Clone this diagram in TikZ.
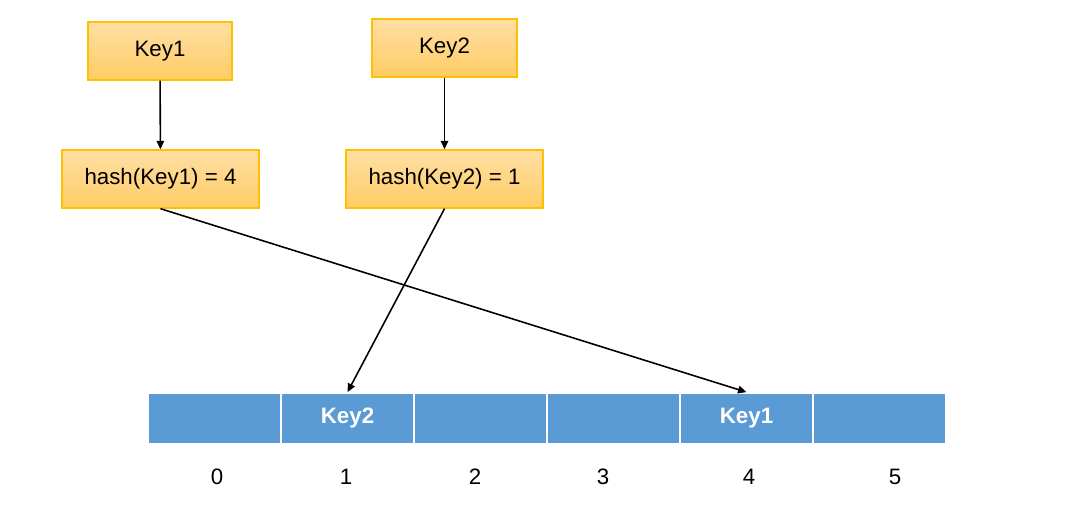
\documentclass[tikz,border=0pt]{standalone}
\usepackage{fontspec}
\setmainfont{Liberation Sans}
\usetikzlibrary{arrows.meta}
\definecolor{boxtop}{HTML}{FFDFA3}
\definecolor{boxbot}{HTML}{FFCC66}
\definecolor{boxline}{HTML}{FFC000}
\definecolor{slotblue}{HTML}{5B9BD5}

\begin{document}
\begin{tikzpicture}[x=0.02cm,y=-0.02cm,
    keybox/.style={draw=boxline,line width=0.8pt,top color=boxtop,bottom color=boxbot,
      minimum height=1.16cm,inner sep=0pt,font=\fontsize{12.7}{15}\selectfont},
    slot/.style={draw=white,line width=1pt,fill=slotblue,minimum width=2.66cm,
      minimum height=1.02cm,inner sep=0pt,text=white,font=\fontsize{12.7}{15}\selectfont\bfseries},
    idx/.style={font=\fontsize{12.7}{15}\selectfont},
    arr/.style={-{Triangle[length=1.7mm,width=1.5mm]},line width=0.9pt}]
    \useasboundingbox (0,0) rectangle (1067,515);
    \node[keybox,minimum width=2.88cm] (key1) at (160,51) {Key1};
    \node[keybox,minimum width=2.9cm] (key2) at (444.5,48) {Key2};
    \node[keybox,minimum width=3.94cm] (hash1) at (160.5,179) {hash(Key1) = 4};
    \node[keybox,minimum width=3.94cm] (hash2) at (444.5,179) {hash(Key2) = 1};
    \foreach \i/\t in {0/,1/Key2,2/,3/,4/Key1,5/}
      \node[slot] (c\i) at (214.5+133*\i,418.5) {\t};
    \foreach \i/\x in {0/217,1/346,2/475,3/603,4/749,5/895}
      \node[idx] (n\i) at (\x,477) {\i};
    \draw[arr] (key1) -- (hash1);
    \draw[arr] (key2) -- (hash2);
    \draw[arr] (hash1.south) -- (c4.north);
    \draw[arr] (hash2.south) -- (c1.north);
\end{tikzpicture}
\end{document}
